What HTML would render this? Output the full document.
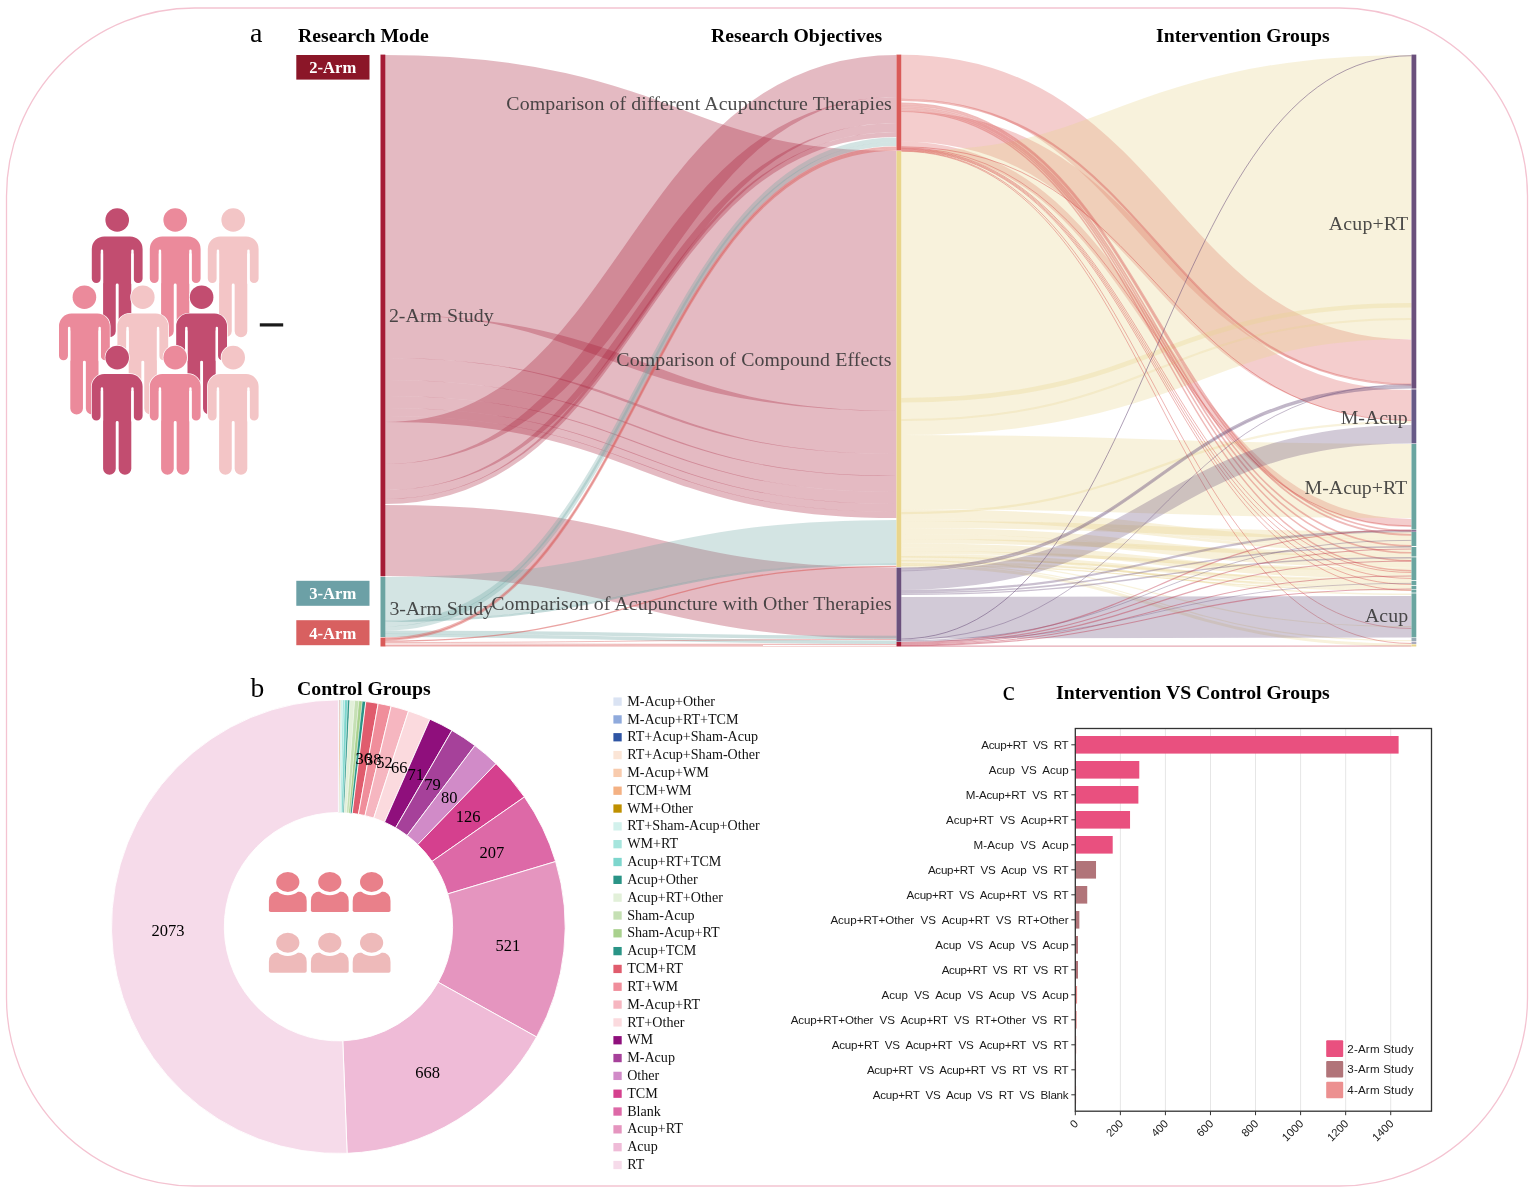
<!DOCTYPE html>
<html lang="en"><head><meta charset="utf-8"><title>Figure</title>
<style>html,body{margin:0;padding:0;background:#fff}svg{display:block}</style></head><body>
<svg width="1535" height="1194" viewBox="0 0 1535 1194">
<rect width="1535" height="1194" fill="#fff"/>
<rect x="6.5" y="8" width="1521" height="1178" rx="188" ry="188" fill="none" stroke="#f4c3d1" stroke-width="1.3"/>
<g fill="none"><path d="M385 185C640.75 185 640.75 281 896.5 281" stroke="rgb(165,28,54)" stroke-opacity="0.3" stroke-width="260.2"/><path d="M385 336.5C640.75 336.5 640.75 432.5 896.5 432.5" stroke="rgb(165,28,54)" stroke-opacity="0.3" stroke-width="43.2"/><path d="M385 369C640.75 369 640.75 465 896.5 465" stroke="rgb(165,28,54)" stroke-opacity="0.3" stroke-width="22.2"/><path d="M385 388C640.75 388 640.75 484 896.5 484" stroke="rgb(165,28,54)" stroke-opacity="0.3" stroke-width="16.2"/><path d="M385 402C640.75 402 640.75 498 896.5 498" stroke="rgb(165,28,54)" stroke-opacity="0.3" stroke-width="12.2"/><path d="M385 412C640.75 412 640.75 508 896.5 508" stroke="rgb(165,28,54)" stroke-opacity="0.3" stroke-width="8.2"/><path d="M385 419C640.75 419 640.75 515 896.5 515" stroke="rgb(165,28,54)" stroke-opacity="0.3" stroke-width="6.2"/><path d="M385 443C640.75 443 640.75 76 896.5 76" stroke="rgb(165,28,54)" stroke-opacity="0.3" stroke-width="42.2"/><path d="M385 477C640.75 477 640.75 110 896.5 110" stroke="rgb(165,28,54)" stroke-opacity="0.3" stroke-width="26.2"/><path d="M385 494.5C640.75 494.5 640.75 127.5 896.5 127.5" stroke="rgb(165,28,54)" stroke-opacity="0.3" stroke-width="9.2"/><path d="M385 501.5C640.75 501.5 640.75 134.5 896.5 134.5" stroke="rgb(165,28,54)" stroke-opacity="0.3" stroke-width="5.2"/><path d="M385 540.5C640.75 540.5 640.75 603 896.5 603" stroke="rgb(165,28,54)" stroke-opacity="0.3" stroke-width="71.2"/><path d="M385 598.5C640.75 598.5 640.75 541.5 896.5 541.5" stroke="rgb(108,164,162)" stroke-opacity="0.3" stroke-width="43.2"/><path d="M385 621C640.75 621 640.75 564 896.5 564" stroke="rgb(108,164,162)" stroke-opacity="0.4" stroke-width="2"/><path d="M385 624.25C640.75 624.25 640.75 139.75 896.5 139.75" stroke="rgb(108,164,162)" stroke-opacity="0.3" stroke-width="4.7"/><path d="M385 628.5C640.75 628.5 640.75 144 896.5 144" stroke="rgb(108,164,162)" stroke-opacity="0.3" stroke-width="4.2"/><path d="M385 632.15C640.75 632.15 640.75 637.45 896.5 637.45" stroke="rgb(108,164,162)" stroke-opacity="0.34" stroke-width="3.5"/><path d="M385 635.4C640.75 635.4 640.75 642.2 896.5 642.2" stroke="rgb(108,164,162)" stroke-opacity="0.34" stroke-width="3.4"/><path d="M385 638.3C640.75 638.3 640.75 147.65 896.5 147.65" stroke="rgb(217,90,88)" stroke-opacity="0.45" stroke-width="2.1"/><path d="M385 639.7C640.75 639.7 640.75 149.75 896.5 149.75" stroke="rgb(217,90,88)" stroke-opacity="0.45" stroke-width="2.1"/><path d="M385 641.1C640.75 641.1 640.75 566.45 896.5 566.45" stroke="rgb(217,90,88)" stroke-opacity="0.55" stroke-width="1.3"/><path d="M385 642.5C640.75 642.5 640.75 639.5 896.5 639.5" stroke="rgb(217,90,88)" stroke-opacity="0.4" stroke-width="1"/><path d="M385 644C640.75 644 640.75 644.6 896.5 644.6" stroke="rgb(217,90,88)" stroke-opacity="0.4" stroke-width="1.2"/><path d="M385 645.75C640.75 645.75 640.75 645.85 896.5 645.85" stroke="rgb(217,90,88)" stroke-opacity="0.5" stroke-width="1.3"/><path d="M901.3 76.78C1156.4 76.78 1156.4 361.52 1411.5 361.52" stroke="rgb(217,90,88)" stroke-opacity="0.3" stroke-width="44.25"/><path d="M901.3 126.4C1156.4 126.4 1156.4 405.1 1411.5 405.1" stroke="rgb(217,90,88)" stroke-opacity="0.3" stroke-width="30.4"/><path d="M901.3 145.5C1156.4 145.5 1156.4 523 1411.5 523" stroke="rgb(217,90,88)" stroke-opacity="0.3" stroke-width="8.2"/><path d="M901.3 293C1156.4 293 1156.4 197 1411.5 197" stroke="rgb(233,213,140)" stroke-opacity="0.3" stroke-width="284.2"/><path d="M901.3 472C1156.4 472 1156.4 481 1411.5 481" stroke="rgb(233,213,140)" stroke-opacity="0.3" stroke-width="74.2"/><path d="M901.3 400.25C1156.4 400.25 1156.4 305.25 1411.5 305.25" stroke="rgb(233,213,140)" stroke-opacity="0.3" stroke-width="4.7"/><path d="M901.3 420C1156.4 420 1156.4 319 1411.5 319" stroke="rgb(233,213,140)" stroke-opacity="0.25" stroke-width="2"/><path d="M901.3 513.5C1156.4 513.5 1156.4 543.38 1411.5 543.38" stroke="rgb(233,213,140)" stroke-opacity="0.32" stroke-width="9.2"/><path d="M901.3 519.5C1156.4 519.5 1156.4 549.74 1411.5 549.74" stroke="rgb(233,213,140)" stroke-opacity="0.32" stroke-width="3"/><path d="M901.3 524.5C1156.4 524.5 1156.4 535.1 1411.5 535.1" stroke="rgb(233,213,140)" stroke-opacity="0.32" stroke-width="7.2"/><path d="M901.3 531C1156.4 531 1156.4 559.04 1411.5 559.04" stroke="rgb(233,213,140)" stroke-opacity="0.32" stroke-width="6.2"/><path d="M901.3 536.5C1156.4 536.5 1156.4 564.78 1411.5 564.78" stroke="rgb(233,213,140)" stroke-opacity="0.32" stroke-width="5.2"/><path d="M901.3 541.25C1156.4 541.25 1156.4 553.61 1411.5 553.61" stroke="rgb(233,213,140)" stroke-opacity="0.32" stroke-width="4.7"/><path d="M901.3 545.5C1156.4 545.5 1156.4 572.6 1411.5 572.6" stroke="rgb(233,213,140)" stroke-opacity="0.32" stroke-width="4.2"/><path d="M901.3 549.25C1156.4 549.25 1156.4 576.51 1411.5 576.51" stroke="rgb(233,213,140)" stroke-opacity="0.32" stroke-width="3.7"/><path d="M901.3 552.5C1156.4 552.5 1156.4 568.98 1411.5 568.98" stroke="rgb(233,213,140)" stroke-opacity="0.32" stroke-width="3"/><path d="M901.3 555.25C1156.4 555.25 1156.4 581.73 1411.5 581.73" stroke="rgb(233,213,140)" stroke-opacity="0.32" stroke-width="2.5"/><path d="M901.3 557.5C1156.4 557.5 1156.4 584.08 1411.5 584.08" stroke="rgb(233,213,140)" stroke-opacity="0.32" stroke-width="2"/><path d="M901.3 559.5C1156.4 559.5 1156.4 579.4 1411.5 579.4" stroke="rgb(233,213,140)" stroke-opacity="0.32" stroke-width="2"/><path d="M901.3 561.5C1156.4 561.5 1156.4 587.72 1411.5 587.72" stroke="rgb(233,213,140)" stroke-opacity="0.32" stroke-width="2"/><path d="M901.3 563.25C1156.4 563.25 1156.4 585.91 1411.5 585.91" stroke="rgb(233,213,140)" stroke-opacity="0.32" stroke-width="1.5"/><path d="M901.3 564.5C1156.4 564.5 1156.4 590.34 1411.5 590.34" stroke="rgb(233,213,140)" stroke-opacity="0.32" stroke-width="1"/><path d="M901.3 565.5C1156.4 565.5 1156.4 589.3 1411.5 589.3" stroke="rgb(233,213,140)" stroke-opacity="0.32" stroke-width="1"/><path d="M901.3 513.1C1156.4 513.1 1156.4 422.1 1411.5 422.1" stroke="rgb(233,213,140)" stroke-opacity="0.3" stroke-width="2.2"/><path d="M901.3 556.7C1156.4 556.7 1156.4 594.3 1411.5 594.3" stroke="rgb(233,213,140)" stroke-opacity="0.3" stroke-width="1.4"/><path d="M901.3 560.6C1156.4 560.6 1156.4 626.6 1411.5 626.6" stroke="rgb(233,213,140)" stroke-opacity="0.3" stroke-width="1.2"/><path d="M901.3 563.6C1156.4 563.6 1156.4 640.6 1411.5 640.6" stroke="rgb(233,213,140)" stroke-opacity="0.3" stroke-width="1.2"/><path d="M901.3 566C1156.4 566 1156.4 645.1 1411.5 645.1" stroke="rgb(233,213,140)" stroke-opacity="0.3" stroke-width="3"/><path d="M901.3 99.9C1156.4 99.9 1156.4 384.6 1411.5 384.6" stroke="rgb(217,90,88)" stroke-opacity="0.42" stroke-width="2.2"/><path d="M901.3 103.45C1156.4 103.45 1156.4 530.85 1411.5 530.85" stroke="rgb(217,90,88)" stroke-opacity="0.42" stroke-width="1.7"/><path d="M901.3 105.15C1156.4 105.15 1156.4 534.85 1411.5 534.85" stroke="rgb(217,90,88)" stroke-opacity="0.42" stroke-width="1.7"/><path d="M901.3 106.8C1156.4 106.8 1156.4 545.8 1411.5 545.8" stroke="rgb(217,90,88)" stroke-opacity="0.42" stroke-width="1.6"/><path d="M901.3 108.4C1156.4 108.4 1156.4 552.8 1411.5 552.8" stroke="rgb(217,90,88)" stroke-opacity="0.42" stroke-width="1.6"/><path d="M901.3 109.95C1156.4 109.95 1156.4 560.75 1411.5 560.75" stroke="rgb(217,90,88)" stroke-opacity="0.42" stroke-width="1.5"/><path d="M901.3 111.4C1156.4 111.4 1156.4 570.7 1411.5 570.7" stroke="rgb(217,90,88)" stroke-opacity="0.42" stroke-width="1.4"/><path d="M901.3 146.8C1156.4 146.8 1156.4 420.5 1411.5 420.5" stroke="rgb(217,90,88)" stroke-opacity="0.5" stroke-width="1"/><path d="M901.3 147.7C1156.4 147.7 1156.4 525.95 1411.5 525.95" stroke="rgb(217,90,88)" stroke-opacity="0.5" stroke-width="0.9"/><path d="M901.3 148.45C1156.4 148.45 1156.4 572.45 1411.5 572.45" stroke="rgb(217,90,88)" stroke-opacity="0.5" stroke-width="0.9"/><path d="M901.3 149.1C1156.4 149.1 1156.4 578.45 1411.5 578.45" stroke="rgb(217,90,88)" stroke-opacity="0.5" stroke-width="0.9"/><path d="M901.3 149.7C1156.4 149.7 1156.4 584.45 1411.5 584.45" stroke="rgb(217,90,88)" stroke-opacity="0.5" stroke-width="0.9"/><path d="M901.3 150.25C1156.4 150.25 1156.4 590.45 1411.5 590.45" stroke="rgb(217,90,88)" stroke-opacity="0.5" stroke-width="0.9"/><path d="M901.3 150.75C1156.4 150.75 1156.4 628.45 1411.5 628.45" stroke="rgb(217,90,88)" stroke-opacity="0.5" stroke-width="0.9"/><path d="M901.3 151.25C1156.4 151.25 1156.4 643.45 1411.5 643.45" stroke="rgb(217,90,88)" stroke-opacity="0.5" stroke-width="0.9"/><path d="M901.3 568.6C1156.4 568.6 1156.4 386 1411.5 386" stroke="rgb(107,80,124)" stroke-opacity="0.42" stroke-width="2"/><path d="M901.3 570.4C1156.4 570.4 1156.4 387.8 1411.5 387.8" stroke="rgb(107,80,124)" stroke-opacity="0.42" stroke-width="1.6"/><path d="M901.3 580.45C1156.4 580.45 1156.4 434.25 1411.5 434.25" stroke="rgb(107,80,124)" stroke-opacity="0.3" stroke-width="18.7"/><path d="M901.3 590.85C1156.4 590.85 1156.4 531.15 1411.5 531.15" stroke="rgb(107,80,124)" stroke-opacity="0.36" stroke-width="2.3"/><path d="M901.3 592.8C1156.4 592.8 1156.4 546.8 1411.5 546.8" stroke="rgb(107,80,124)" stroke-opacity="0.36" stroke-width="1.6"/><path d="M901.3 594.3C1156.4 594.3 1156.4 557.7 1411.5 557.7" stroke="rgb(107,80,124)" stroke-opacity="0.36" stroke-width="1.4"/><path d="M901.3 617.7C1156.4 617.7 1156.4 616.7 1411.5 616.7" stroke="rgb(107,80,124)" stroke-opacity="0.3" stroke-width="41.6"/><path d="M901.3 638.9C1156.4 638.9 1156.4 55.7 1411.5 55.7" stroke="rgb(107,80,124)" stroke-opacity="0.55" stroke-width="1"/><path d="M901.3 639.8C1156.4 639.8 1156.4 384.4 1411.5 384.4" stroke="rgb(107,80,124)" stroke-opacity="0.5" stroke-width="0.8"/><path d="M901.3 640.6C1156.4 640.6 1156.4 540.4 1411.5 540.4" stroke="rgb(107,80,124)" stroke-opacity="0.45" stroke-width="0.8"/><path d="M901.3 641.35C1156.4 641.35 1156.4 583.35 1411.5 583.35" stroke="rgb(107,80,124)" stroke-opacity="0.45" stroke-width="0.7"/><path d="M901.3 642.45C1156.4 642.45 1156.4 530.05 1411.5 530.05" stroke="rgb(190,50,75)" stroke-opacity="0.42" stroke-width="1.1"/><path d="M901.3 643.35C1156.4 643.35 1156.4 549.05 1411.5 549.05" stroke="rgb(190,50,75)" stroke-opacity="0.42" stroke-width="1.1"/><path d="M901.3 644.2C1156.4 644.2 1156.4 561.05 1411.5 561.05" stroke="rgb(190,50,75)" stroke-opacity="0.42" stroke-width="1.1"/><path d="M901.3 644.95C1156.4 644.95 1156.4 576.05 1411.5 576.05" stroke="rgb(190,50,75)" stroke-opacity="0.42" stroke-width="1.1"/><path d="M901.3 645.6C1156.4 645.6 1156.4 589.05 1411.5 589.05" stroke="rgb(190,50,75)" stroke-opacity="0.42" stroke-width="1.1"/><path d="M901.3 646.15C1156.4 646.15 1156.4 646.05 1411.5 646.05" stroke="rgb(190,50,75)" stroke-opacity="0.42" stroke-width="1.1"/></g>
<rect x="380.5" y="54.6" width="4.8" height="521.7" fill="rgb(165,28,54)"/>
<rect x="380.5" y="577" width="4.8" height="60" fill="rgb(108,164,162)"/>
<rect x="380.5" y="637.6" width="4.8" height="8.9" fill="rgb(217,90,88)"/>
<rect x="896.5" y="54.6" width="4.8" height="95.9" fill="rgb(217,90,88)"/>
<rect x="896.5" y="151" width="4.8" height="416" fill="rgb(233,213,140)"/>
<rect x="896.5" y="567.6" width="4.8" height="74" fill="rgb(107,80,124)"/>
<rect x="896.5" y="642" width="4.8" height="4.5" fill="rgb(165,28,54)"/>
<rect x="1411.5" y="54.6" width="4.8" height="334" fill="rgb(107,80,124)"/>
<rect x="1411.5" y="389.4" width="4.8" height="54" fill="rgb(103,90,135)"/>
<rect x="1411.5" y="444" width="4.8" height="85.6" fill="rgb(106,165,160)"/>
<rect x="1411.5" y="530.2" width="4.8" height="1.4" fill="rgb(107,80,124)"/>
<rect x="1411.5" y="532" width="4.8" height="14" fill="rgb(106,165,160)"/>
<rect x="1411.5" y="547" width="4.8" height="9.5" fill="rgb(106,165,160)"/>
<rect x="1411.5" y="557.3" width="4.8" height="22.7" fill="rgb(106,165,160)"/>
<rect x="1411.5" y="580.8" width="4.8" height="4.2" fill="rgb(106,165,160)"/>
<rect x="1411.5" y="585.8" width="4.8" height="3.2" fill="rgb(106,165,160)"/>
<rect x="1411.5" y="589.6" width="4.8" height="3" fill="rgb(106,165,160)"/>
<rect x="1411.5" y="593.4" width="4.8" height="44" fill="rgb(106,165,160)"/>
<rect x="1411.5" y="638" width="4.8" height="3" fill="rgb(150,170,180)"/>
<rect x="1411.5" y="641.6" width="4.8" height="2.4" fill="rgb(170,170,190)"/>
<rect x="1411.5" y="644.4" width="4.8" height="2.1" fill="rgb(233,213,140)"/>
<g style='font-family:"Liberation Serif", "DejaVu Serif", serif;font-size:19.85px;fill:#333;fill-opacity:.88'>
<text x="388.9" y="322.4" textLength="104.7" lengthAdjust="spacing">2-Arm Study</text>
<text x="389.4" y="614.7" textLength="103.5" lengthAdjust="spacing">3-Arm Study</text>
<text x="506.3" y="109.7" textLength="385.5" lengthAdjust="spacing">Comparison of different Acupuncture Therapies</text>
<text x="616.3" y="366.3" textLength="275.3" lengthAdjust="spacing">Comparison of Compound Effects</text>
<text x="491.3" y="609.6" textLength="400.5" lengthAdjust="spacing">Comparison of Acupuncture with Other Therapies</text>
<text x="1328.8" y="230.1" textLength="79.4" lengthAdjust="spacing">Acup+RT</text>
<text x="1340.8" y="424.1" textLength="66.8" lengthAdjust="spacing">M-Acup</text>
<text x="1304.6" y="494" textLength="102.5" lengthAdjust="spacing">M-Acup+RT</text>
<text x="1364.9" y="621.9" textLength="43.3" lengthAdjust="spacing">Acup</text>
</g>
<g fill="#c24d70" stroke="#fff" stroke-width="1.4" paint-order="stroke"><circle cx="117.2" cy="220" r="11.8"/><path d="M104.3 236.4H130.1A12.5 12.5 0 0 1 142.6 248.9V278.5A4.5 4.5 0 0 1 133.6 278.5V253.4H131.3V331.18A6.33 6.33 0 0 1 118.65 331.18V284.9A1.45 1.45 0 0 0 115.75 284.9V331.18A6.33 6.33 0 0 1 103.1 331.18V253.4H100.8V278.5A4.5 4.5 0 0 1 91.8 278.5V248.9A12.5 12.5 0 0 1 104.3 236.4Z"/></g>
<path d="M101.95 250.8V283M132.45 250.8V283" stroke="#fff" stroke-width="2.4" stroke-linecap="round" fill="none"/>
<g fill="#eb8a9b" stroke="#fff" stroke-width="1.4" paint-order="stroke"><circle cx="175.2" cy="220" r="11.8"/><path d="M162.3 236.4H188.1A12.5 12.5 0 0 1 200.6 248.9V278.5A4.5 4.5 0 0 1 191.6 278.5V253.4H189.3V331.18A6.33 6.33 0 0 1 176.65 331.18V284.9A1.45 1.45 0 0 0 173.75 284.9V331.18A6.33 6.33 0 0 1 161.1 331.18V253.4H158.8V278.5A4.5 4.5 0 0 1 149.8 278.5V248.9A12.5 12.5 0 0 1 162.3 236.4Z"/></g>
<path d="M159.95 250.8V283M190.45 250.8V283" stroke="#fff" stroke-width="2.4" stroke-linecap="round" fill="none"/>
<g fill="#f3c5c6" stroke="#fff" stroke-width="1.4" paint-order="stroke"><circle cx="233.2" cy="220" r="11.8"/><path d="M220.3 236.4H246.1A12.5 12.5 0 0 1 258.6 248.9V278.5A4.5 4.5 0 0 1 249.6 278.5V253.4H247.3V331.18A6.33 6.33 0 0 1 234.65 331.18V284.9A1.45 1.45 0 0 0 231.75 284.9V331.18A6.33 6.33 0 0 1 219.1 331.18V253.4H216.8V278.5A4.5 4.5 0 0 1 207.8 278.5V248.9A12.5 12.5 0 0 1 220.3 236.4Z"/></g>
<path d="M217.95 250.8V283M248.45 250.8V283" stroke="#fff" stroke-width="2.4" stroke-linecap="round" fill="none"/>
<g fill="#eb8a9b" stroke="#fff" stroke-width="1.4" paint-order="stroke"><circle cx="84.4" cy="297.2" r="11.8"/><path d="M71.5 313.6H97.3A12.5 12.5 0 0 1 109.8 326.1V355.7A4.5 4.5 0 0 1 100.8 355.7V330.6H98.5V408.38A6.33 6.33 0 0 1 85.85 408.38V362.1A1.45 1.45 0 0 0 82.95 362.1V408.38A6.33 6.33 0 0 1 70.3 408.38V330.6H68V355.7A4.5 4.5 0 0 1 59 355.7V326.1A12.5 12.5 0 0 1 71.5 313.6Z"/></g>
<path d="M69.15 328V360.2M99.65 328V360.2" stroke="#fff" stroke-width="2.4" stroke-linecap="round" fill="none"/>
<g fill="#f3c5c6" stroke="#fff" stroke-width="1.4" paint-order="stroke"><circle cx="142.8" cy="297.2" r="11.8"/><path d="M129.9 313.6H155.7A12.5 12.5 0 0 1 168.2 326.1V355.7A4.5 4.5 0 0 1 159.2 355.7V330.6H156.9V408.38A6.33 6.33 0 0 1 144.25 408.38V362.1A1.45 1.45 0 0 0 141.35 362.1V408.38A6.33 6.33 0 0 1 128.7 408.38V330.6H126.4V355.7A4.5 4.5 0 0 1 117.4 355.7V326.1A12.5 12.5 0 0 1 129.9 313.6Z"/></g>
<path d="M127.55 328V360.2M158.05 328V360.2" stroke="#fff" stroke-width="2.4" stroke-linecap="round" fill="none"/>
<g fill="#c24d70" stroke="#fff" stroke-width="1.4" paint-order="stroke"><circle cx="201.6" cy="297.2" r="11.8"/><path d="M188.7 313.6H214.5A12.5 12.5 0 0 1 227 326.1V355.7A4.5 4.5 0 0 1 218 355.7V330.6H215.7V408.38A6.33 6.33 0 0 1 203.05 408.38V362.1A1.45 1.45 0 0 0 200.15 362.1V408.38A6.33 6.33 0 0 1 187.5 408.38V330.6H185.2V355.7A4.5 4.5 0 0 1 176.2 355.7V326.1A12.5 12.5 0 0 1 188.7 313.6Z"/></g>
<path d="M186.35 328V360.2M216.85 328V360.2" stroke="#fff" stroke-width="2.4" stroke-linecap="round" fill="none"/>
<g fill="#c24d70" stroke="#fff" stroke-width="1.4" paint-order="stroke"><circle cx="117.2" cy="357.6" r="11.8"/><path d="M104.3 374H130.1A12.5 12.5 0 0 1 142.6 386.5V416.1A4.5 4.5 0 0 1 133.6 416.1V391H131.3V468.78A6.33 6.33 0 0 1 118.65 468.78V422.5A1.45 1.45 0 0 0 115.75 422.5V468.78A6.33 6.33 0 0 1 103.1 468.78V391H100.8V416.1A4.5 4.5 0 0 1 91.8 416.1V386.5A12.5 12.5 0 0 1 104.3 374Z"/></g>
<path d="M101.95 388.4V420.6M132.45 388.4V420.6" stroke="#fff" stroke-width="2.4" stroke-linecap="round" fill="none"/>
<g fill="#eb8a9b" stroke="#fff" stroke-width="1.4" paint-order="stroke"><circle cx="175.2" cy="357.6" r="11.8"/><path d="M162.3 374H188.1A12.5 12.5 0 0 1 200.6 386.5V416.1A4.5 4.5 0 0 1 191.6 416.1V391H189.3V468.78A6.33 6.33 0 0 1 176.65 468.78V422.5A1.45 1.45 0 0 0 173.75 422.5V468.78A6.33 6.33 0 0 1 161.1 468.78V391H158.8V416.1A4.5 4.5 0 0 1 149.8 416.1V386.5A12.5 12.5 0 0 1 162.3 374Z"/></g>
<path d="M159.95 388.4V420.6M190.45 388.4V420.6" stroke="#fff" stroke-width="2.4" stroke-linecap="round" fill="none"/>
<g fill="#f3c5c6" stroke="#fff" stroke-width="1.4" paint-order="stroke"><circle cx="233.2" cy="357.6" r="11.8"/><path d="M220.3 374H246.1A12.5 12.5 0 0 1 258.6 386.5V416.1A4.5 4.5 0 0 1 249.6 416.1V391H247.3V468.78A6.33 6.33 0 0 1 234.65 468.78V422.5A1.45 1.45 0 0 0 231.75 422.5V468.78A6.33 6.33 0 0 1 219.1 468.78V391H216.8V416.1A4.5 4.5 0 0 1 207.8 416.1V386.5A12.5 12.5 0 0 1 220.3 374Z"/></g>
<path d="M217.95 388.4V420.6M248.45 388.4V420.6" stroke="#fff" stroke-width="2.4" stroke-linecap="round" fill="none"/>
<rect x="259.8" y="323.3" width="23.4" height="3.2" fill="#1a1a1a"/>
<g style='font-family:"Liberation Serif", "DejaVu Serif", serif;fill:#000'>
<text x="250" y="42" font-size="28">a</text>
<text x="250.6" y="697" font-size="27.5">b</text>
<text x="1002.4" y="700" font-size="28">c</text>
<g font-weight="bold" font-size="19.75">
<text x="298" y="41.7">Research Mode</text>
<text x="711" y="41.7">Research Objectives</text>
<text x="1156" y="41.7">Intervention Groups</text>
<text x="297" y="694.7">Control Groups</text>
<text x="1056" y="699">Intervention VS Control Groups</text>
</g>
<rect x="296.3" y="55" width="73.2" height="24.6" fill="#8b1628"/>
<text x="332.8" y="73.1" text-anchor="middle" font-weight="bold" font-size="16.6" fill="#fff">2-Arm</text>
<rect x="296.3" y="580.8" width="73.2" height="25" fill="#6ca0a6"/>
<text x="332.8" y="599.1" text-anchor="middle" font-weight="bold" font-size="16.6" fill="#fff">3-Arm</text>
<rect x="296.3" y="620.2" width="73.2" height="25" fill="#d86060"/>
<text x="332.8" y="638.5" text-anchor="middle" font-weight="bold" font-size="16.6" fill="#fff">4-Arm</text>
</g>
<g stroke="#fff" stroke-width="0.9" stroke-linejoin="round">
<path d="M338.4 699.9A226.8 226.8 0 0 1 338.7 699.9L338.55 812.5A114.2 114.2 0 0 0 338.4 812.5Z" fill="#dae3f3" stroke="none"/>
<path d="M338.7 699.9A226.8 226.8 0 0 1 338.99 699.9L338.7 812.5A114.2 114.2 0 0 0 338.55 812.5Z" fill="#8faadc" stroke="none"/>
<path d="M338.99 699.9A226.8 226.8 0 0 1 339.29 699.9L338.85 812.5A114.2 114.2 0 0 0 338.7 812.5Z" fill="#2f55a4" stroke="none"/>
<path d="M339.29 699.9A226.8 226.8 0 0 1 339.58 699.9L339 812.5A114.2 114.2 0 0 0 338.85 812.5Z" fill="#fbe5d6" stroke="none"/>
<path d="M339.58 699.9A226.8 226.8 0 0 1 339.88 699.9L339.14 812.5A114.2 114.2 0 0 0 339 812.5Z" fill="#f8cbad" stroke="none"/>
<path d="M339.88 699.9A226.8 226.8 0 0 1 340.17 699.91L339.29 812.5A114.2 114.2 0 0 0 339.14 812.5Z" fill="#f4b183" stroke="none"/>
<path d="M340.17 699.91A226.8 226.8 0 0 1 340.47 699.91L339.44 812.5A114.2 114.2 0 0 0 339.29 812.5Z" fill="#bf9000" stroke="none"/>
<path d="M340.47 699.91A226.8 226.8 0 0 1 342.56 699.94L340.49 812.52A114.2 114.2 0 0 0 339.44 812.5Z" fill="#d2f1ec" stroke-width="0.35"/>
<path d="M342.56 699.94A226.8 226.8 0 0 1 344.64 699.99L341.54 812.54A114.2 114.2 0 0 0 340.49 812.52Z" fill="#a6e5dd" stroke-width="0.35"/>
<path d="M344.64 699.99A226.8 226.8 0 0 1 347.77 700.09L343.12 812.6A114.2 114.2 0 0 0 341.54 812.54Z" fill="#7dd6cd" stroke-width="0.35"/>
<path d="M347.77 700.09A226.8 226.8 0 0 1 349.86 700.19L344.17 812.65A114.2 114.2 0 0 0 343.12 812.6Z" fill="#2a9486" stroke-width="0.35"/>
<path d="M349.86 700.19A226.8 226.8 0 0 1 354.72 700.49L346.62 812.8A114.2 114.2 0 0 0 344.17 812.65Z" fill="#e2f0d9" stroke-width="0.35"/>
<path d="M354.72 700.49A226.8 226.8 0 0 1 358.88 700.83L348.71 812.97A114.2 114.2 0 0 0 346.62 812.8Z" fill="#c5e0b4" stroke-width="0.35"/>
<path d="M358.88 700.83A226.8 226.8 0 0 1 362.34 701.17L350.46 813.14A114.2 114.2 0 0 0 348.71 812.97Z" fill="#a9d18e" stroke-width="0.35"/>
<path d="M362.34 701.17A226.8 226.8 0 0 1 365.8 701.56L352.2 813.34A114.2 114.2 0 0 0 350.46 813.14Z" fill="#2a9486" stroke-width="0.35"/>
<path d="M365.8 701.56A226.8 226.8 0 0 1 378.19 703.42L358.43 814.27A114.2 114.2 0 0 0 352.2 813.34Z" fill="#e05c6d"/>
<path d="M378.19 703.42A226.8 226.8 0 0 1 391.13 706.11L364.95 815.63A114.2 114.2 0 0 0 358.43 814.27Z" fill="#f08e9b"/>
<path d="M391.13 706.11A226.8 226.8 0 0 1 408.54 711.02L373.72 818.1A114.2 114.2 0 0 0 364.95 815.63Z" fill="#f6b6c0"/>
<path d="M408.54 711.02A226.8 226.8 0 0 1 429.98 719.21L384.51 822.22A114.2 114.2 0 0 0 373.72 818.1Z" fill="#fbdade"/>
<path d="M429.98 719.21A226.8 226.8 0 0 1 451.99 730.39L395.59 827.85A114.2 114.2 0 0 0 384.51 822.22Z" fill="#8f0f7c"/>
<path d="M451.99 730.39A226.8 226.8 0 0 1 474.89 745.56L407.12 835.49A114.2 114.2 0 0 0 395.59 827.85Z" fill="#a6419a"/>
<path d="M474.89 745.56A226.8 226.8 0 0 1 496.03 763.63L417.77 844.59A114.2 114.2 0 0 0 407.12 835.49Z" fill="#d18bc8"/>
<path d="M496.03 763.63A226.8 226.8 0 0 1 524.42 796.95L432.07 861.37A114.2 114.2 0 0 0 417.77 844.59Z" fill="#d5408e"/>
<path d="M524.42 796.95A226.8 226.8 0 0 1 555.63 861.52L447.78 893.88A114.2 114.2 0 0 0 432.07 861.37Z" fill="#dd69a7"/>
<path d="M555.63 861.52A226.8 226.8 0 0 1 536.59 1036.96L438.2 982.22A114.2 114.2 0 0 0 447.78 893.88Z" fill="#e595bf"/>
<path d="M536.59 1036.96A226.8 226.8 0 0 1 347.1 1153.33L342.78 1040.82A114.2 114.2 0 0 0 438.2 982.22Z" fill="#efbbd7"/>
<path d="M347.1 1153.33A226.8 226.8 0 1 1 338.4 699.9L338.4 812.5A114.2 114.2 0 1 0 342.78 1040.82Z" fill="#f6dbea"/>
</g>
<g style='font-family:"Liberation Serif", "DejaVu Serif", serif;font-size:16.5px;fill:#000' text-anchor="middle">
<text x="363.66" y="763.68">36</text>
<text x="373.19" y="765.39">38</text>
<text x="384.62" y="768.18">52</text>
<text x="399.26" y="773.03">66</text>
<text x="415.63" y="780.29">71</text>
<text x="432.57" y="790.17">79</text>
<text x="449.16" y="802.68">80</text>
<text x="468.18" y="821.72">126</text>
<text x="491.9" y="858.09">207</text>
<text x="507.9" y="950.69">521</text>
<text x="427.63" y="1077.59">668</text>
<text x="167.93" y="935.57">2073</text>
</g>
<g fill="#e9808a"><path d="M268.9 910.2V901.1Q268.9 891.6 278.4 891.6H297.2Q306.7 891.6 306.7 901.1V910.2Q306.7 912 304.9 912H270.7Q268.9 912 268.9 910.2Z"/><ellipse cx="287.8" cy="882" rx="11.6" ry="10" stroke="#fff" stroke-width="6.6" paint-order="stroke"/></g>
<g fill="#eebaba"><path d="M268.9 971V961.9Q268.9 952.4 278.4 952.4H297.2Q306.7 952.4 306.7 961.9V971Q306.7 972.8 304.9 972.8H270.7Q268.9 972.8 268.9 971Z"/><ellipse cx="287.8" cy="942.8" rx="11.6" ry="10" stroke="#fff" stroke-width="6.6" paint-order="stroke"/></g>
<g fill="#e9808a"><path d="M310.9 910.2V901.1Q310.9 891.6 320.4 891.6H339.2Q348.7 891.6 348.7 901.1V910.2Q348.7 912 346.9 912H312.7Q310.9 912 310.9 910.2Z"/><ellipse cx="329.8" cy="882" rx="11.6" ry="10" stroke="#fff" stroke-width="6.6" paint-order="stroke"/></g>
<g fill="#eebaba"><path d="M310.9 971V961.9Q310.9 952.4 320.4 952.4H339.2Q348.7 952.4 348.7 961.9V971Q348.7 972.8 346.9 972.8H312.7Q310.9 972.8 310.9 971Z"/><ellipse cx="329.8" cy="942.8" rx="11.6" ry="10" stroke="#fff" stroke-width="6.6" paint-order="stroke"/></g>
<g fill="#e9808a"><path d="M352.7 910.2V901.1Q352.7 891.6 362.2 891.6H381Q390.5 891.6 390.5 901.1V910.2Q390.5 912 388.7 912H354.5Q352.7 912 352.7 910.2Z"/><ellipse cx="371.6" cy="882" rx="11.6" ry="10" stroke="#fff" stroke-width="6.6" paint-order="stroke"/></g>
<g fill="#eebaba"><path d="M352.7 971V961.9Q352.7 952.4 362.2 952.4H381Q390.5 952.4 390.5 961.9V971Q390.5 972.8 388.7 972.8H354.5Q352.7 972.8 352.7 971Z"/><ellipse cx="371.6" cy="942.8" rx="11.6" ry="10" stroke="#fff" stroke-width="6.6" paint-order="stroke"/></g>
<g style='font-family:"Liberation Serif", "DejaVu Serif", serif;font-size:14.1px;fill:#111'>
<rect x="613.4" y="697.45" width="8.3" height="8.3" fill="#dae3f3"/>
<text x="627.2" y="705.7">M-Acup+Other</text>
<rect x="613.4" y="715.27" width="8.3" height="8.3" fill="#8faadc"/>
<text x="627.2" y="723.52">M-Acup+RT+TCM</text>
<rect x="613.4" y="733.1" width="8.3" height="8.3" fill="#2f55a4"/>
<text x="627.2" y="741.35">RT+Acup+Sham-Acup</text>
<rect x="613.4" y="750.92" width="8.3" height="8.3" fill="#fbe5d6"/>
<text x="627.2" y="759.17">RT+Acup+Sham-Other</text>
<rect x="613.4" y="768.74" width="8.3" height="8.3" fill="#f8cbad"/>
<text x="627.2" y="776.99">M-Acup+WM</text>
<rect x="613.4" y="786.56" width="8.3" height="8.3" fill="#f4b183"/>
<text x="627.2" y="794.81">TCM+WM</text>
<rect x="613.4" y="804.39" width="8.3" height="8.3" fill="#bf9000"/>
<text x="627.2" y="812.64">WM+Other</text>
<rect x="613.4" y="822.21" width="8.3" height="8.3" fill="#d2f1ec"/>
<text x="627.2" y="830.46">RT+Sham-Acup+Other</text>
<rect x="613.4" y="840.03" width="8.3" height="8.3" fill="#a6e5dd"/>
<text x="627.2" y="848.28">WM+RT</text>
<rect x="613.4" y="857.86" width="8.3" height="8.3" fill="#7dd6cd"/>
<text x="627.2" y="866.11">Acup+RT+TCM</text>
<rect x="613.4" y="875.68" width="8.3" height="8.3" fill="#2a9486"/>
<text x="627.2" y="883.93">Acup+Other</text>
<rect x="613.4" y="893.5" width="8.3" height="8.3" fill="#e2f0d9"/>
<text x="627.2" y="901.75">Acup+RT+Other</text>
<rect x="613.4" y="911.33" width="8.3" height="8.3" fill="#c5e0b4"/>
<text x="627.2" y="919.58">Sham-Acup</text>
<rect x="613.4" y="929.15" width="8.3" height="8.3" fill="#a9d18e"/>
<text x="627.2" y="937.4">Sham-Acup+RT</text>
<rect x="613.4" y="946.97" width="8.3" height="8.3" fill="#2a9486"/>
<text x="627.2" y="955.22">Acup+TCM</text>
<rect x="613.4" y="964.79" width="8.3" height="8.3" fill="#e05c6d"/>
<text x="627.2" y="973.04">TCM+RT</text>
<rect x="613.4" y="982.62" width="8.3" height="8.3" fill="#f08e9b"/>
<text x="627.2" y="990.87">RT+WM</text>
<rect x="613.4" y="1000.44" width="8.3" height="8.3" fill="#f6b6c0"/>
<text x="627.2" y="1008.69">M-Acup+RT</text>
<rect x="613.4" y="1018.26" width="8.3" height="8.3" fill="#fbdade"/>
<text x="627.2" y="1026.51">RT+Other</text>
<rect x="613.4" y="1036.09" width="8.3" height="8.3" fill="#8f0f7c"/>
<text x="627.2" y="1044.34">WM</text>
<rect x="613.4" y="1053.91" width="8.3" height="8.3" fill="#a6419a"/>
<text x="627.2" y="1062.16">M-Acup</text>
<rect x="613.4" y="1071.73" width="8.3" height="8.3" fill="#d18bc8"/>
<text x="627.2" y="1079.98">Other</text>
<rect x="613.4" y="1089.56" width="8.3" height="8.3" fill="#d5408e"/>
<text x="627.2" y="1097.81">TCM</text>
<rect x="613.4" y="1107.38" width="8.3" height="8.3" fill="#dd69a7"/>
<text x="627.2" y="1115.63">Blank</text>
<rect x="613.4" y="1125.2" width="8.3" height="8.3" fill="#e595bf"/>
<text x="627.2" y="1133.45">Acup+RT</text>
<rect x="613.4" y="1143.03" width="8.3" height="8.3" fill="#efbbd7"/>
<text x="627.2" y="1151.28">Acup</text>
<rect x="613.4" y="1160.85" width="8.3" height="8.3" fill="#f6dbea"/>
<text x="627.2" y="1169.1">RT</text>
</g>
<rect x="1075.3" y="728.5" width="356.2" height="382.7" fill="#fff"/>
<path d="M1120.36 728.5V1111.2M1165.42 728.5V1111.2M1210.48 728.5V1111.2M1255.54 728.5V1111.2M1300.6 728.5V1111.2M1345.66 728.5V1111.2M1390.72 728.5V1111.2" stroke="#e6e6e6" stroke-width="1" fill="none"/>
<g style='font-family:"Liberation Sans", "DejaVu Sans", sans-serif;font-size:11.6px;fill:#1a1a1a'>
<rect x="1075.3" y="736" width="323.31" height="17.6" fill="#e9507f"/>
<text x="981.3" y="748.6" word-spacing="3.2" textLength="87.3" lengthAdjust="spacing">Acup+RT VS RT</text>
<rect x="1075.3" y="761" width="63.99" height="17.6" fill="#e9507f"/>
<text x="988.7" y="773.6" word-spacing="3.2" textLength="79.9" lengthAdjust="spacing">Acup VS Acup</text>
<rect x="1075.3" y="786" width="63.08" height="17.6" fill="#e9507f"/>
<text x="965.7" y="798.6" word-spacing="3.2" textLength="102.9" lengthAdjust="spacing">M-Acup+RT VS RT</text>
<rect x="1075.3" y="811" width="54.75" height="17.6" fill="#e9507f"/>
<text x="946.1" y="823.6" word-spacing="3.2" textLength="122.5" lengthAdjust="spacing">Acup+RT VS Acup+RT</text>
<rect x="1075.3" y="836" width="37.4" height="17.6" fill="#e9507f"/>
<text x="973.5" y="848.6" word-spacing="3.2" textLength="95.1" lengthAdjust="spacing">M-Acup VS Acup</text>
<rect x="1075.3" y="861" width="20.73" height="17.6" fill="#b17479"/>
<text x="927.9" y="873.6" word-spacing="3.2" textLength="140.7" lengthAdjust="spacing">Acup+RT VS Acup VS RT</text>
<rect x="1075.3" y="886" width="11.94" height="17.6" fill="#b17479"/>
<text x="906.6" y="898.6" word-spacing="3.2" textLength="162" lengthAdjust="spacing">Acup+RT VS Acup+RT VS RT</text>
<rect x="1075.3" y="911" width="4.06" height="17.6" fill="#b17479"/>
<text x="830.4" y="923.6" word-spacing="3.2" textLength="238.2" lengthAdjust="spacing">Acup+RT+Other VS Acup+RT VS RT+Other</text>
<rect x="1075.3" y="936" width="2.7" height="17.6" fill="#b17479"/>
<text x="935.3" y="948.6" word-spacing="3.2" textLength="133.3" lengthAdjust="spacing">Acup VS Acup VS Acup</text>
<rect x="1075.3" y="961" width="2.7" height="17.6" fill="#b17479"/>
<text x="941.8" y="973.6" word-spacing="3.2" textLength="126.8" lengthAdjust="spacing">Acup+RT VS RT VS RT</text>
<rect x="1075.3" y="986" width="1.8" height="17.6" fill="#ec9090"/>
<text x="881.6" y="998.6" word-spacing="3.2" textLength="187" lengthAdjust="spacing">Acup VS Acup VS Acup VS Acup</text>
<rect x="1075.3" y="1011" width="1.35" height="17.6" fill="#ec9090"/>
<text x="790.7" y="1023.6" word-spacing="3.2" textLength="277.9" lengthAdjust="spacing">Acup+RT+Other VS Acup+RT VS RT+Other VS RT</text>
<rect x="1075.3" y="1036" width="0.9" height="17.6" fill="#ec9090"/>
<text x="831.7" y="1048.6" word-spacing="3.2" textLength="236.9" lengthAdjust="spacing">Acup+RT VS Acup+RT VS Acup+RT VS RT</text>
<rect x="1075.3" y="1061" width="0.8" height="17.6" fill="#ec9090"/>
<text x="866.9" y="1073.6" word-spacing="3.2" textLength="201.7" lengthAdjust="spacing">Acup+RT VS Acup+RT VS RT VS RT</text>
<rect x="1075.3" y="1086" width="0.8" height="17.6" fill="#ec9090"/>
<text x="872.8" y="1098.6" word-spacing="3.2" textLength="195.8" lengthAdjust="spacing">Acup+RT VS Acup VS RT VS Blank</text>
<text transform="translate(1078.9 1124.4) rotate(-45)" text-anchor="end" font-size="11.2">0</text>
<text transform="translate(1123.96 1124.4) rotate(-45)" text-anchor="end" font-size="11.2">200</text>
<text transform="translate(1169.02 1124.4) rotate(-45)" text-anchor="end" font-size="11.2">400</text>
<text transform="translate(1214.08 1124.4) rotate(-45)" text-anchor="end" font-size="11.2">600</text>
<text transform="translate(1259.14 1124.4) rotate(-45)" text-anchor="end" font-size="11.2">800</text>
<text transform="translate(1304.2 1124.4) rotate(-45)" text-anchor="end" font-size="11.2">1000</text>
<text transform="translate(1349.26 1124.4) rotate(-45)" text-anchor="end" font-size="11.2">1200</text>
<text transform="translate(1394.32 1124.4) rotate(-45)" text-anchor="end" font-size="11.2">1400</text>
<path d="M1071.3 744.8H1075.3M1071.3 769.8H1075.3M1071.3 794.8H1075.3M1071.3 819.8H1075.3M1071.3 844.8H1075.3M1071.3 869.8H1075.3M1071.3 894.8H1075.3M1071.3 919.8H1075.3M1071.3 944.8H1075.3M1071.3 969.8H1075.3M1071.3 994.8H1075.3M1071.3 1019.8H1075.3M1071.3 1044.8H1075.3M1071.3 1069.8H1075.3M1071.3 1094.8H1075.3M1075.3 1111.2V1115.2M1120.36 1111.2V1115.2M1165.42 1111.2V1115.2M1210.48 1111.2V1115.2M1255.54 1111.2V1115.2M1300.6 1111.2V1115.2M1345.66 1111.2V1115.2M1390.72 1111.2V1115.2" stroke="#333" stroke-width="1" fill="none"/>
<rect x="1075.3" y="728.5" width="356.2" height="382.7" fill="none" stroke="#333" stroke-width="1.3"/>
<rect x="1326.2" y="1040.3" width="17" height="16.6" rx="1" fill="#e9507f"/>
<text x="1347.3" y="1052.6" textLength="66.2" lengthAdjust="spacing">2-Arm Study</text>
<rect x="1326.2" y="1061" width="17" height="16.6" rx="1" fill="#b17479"/>
<text x="1347.3" y="1073.3" textLength="66.2" lengthAdjust="spacing">3-Arm Study</text>
<rect x="1326.2" y="1081.7" width="17" height="16.6" rx="1" fill="#ec9090"/>
<text x="1347.3" y="1094" textLength="66.2" lengthAdjust="spacing">4-Arm Study</text>
</g>
</svg></body></html>
